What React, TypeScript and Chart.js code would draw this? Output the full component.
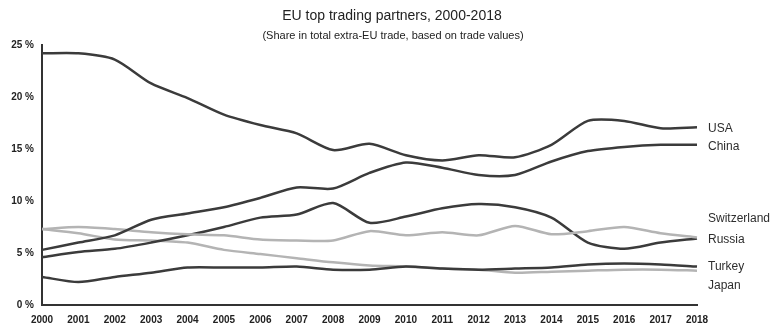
import React, { useEffect, useRef } from "react";
import { Chart, registerables } from "chart.js";

Chart.register(...registerables);

const TITLE = "EU top trading partners, 2000-2018";
const SUBTITLE = "(Share in total extra-EU trade, based on trade values)";

const years = ["2000","2001","2002","2003","2004","2005","2006","2007","2008","2009","2010","2011","2012","2013","2014","2015","2016","2017","2018"];

const usa = [24.2, 24.2, 23.6, 21.3, 19.9, 18.3, 17.3, 16.5, 14.9, 15.5, 14.4, 13.9, 14.4, 14.2, 15.4, 17.7, 17.7, 17.0, 17.1];
const china = [5.3, 6.0, 6.7, 8.2, 8.8, 9.4, 10.3, 11.3, 11.2, 12.7, 13.7, 13.2, 12.5, 12.5, 13.8, 14.8, 15.2, 15.4, 15.4];
const switzerland = [7.3, 7.5, 7.3, 7.0, 6.8, 6.7, 6.3, 6.2, 6.2, 7.1, 6.7, 7.0, 6.7, 7.6, 6.8, 7.1, 7.5, 6.9, 6.5];
const russia = [4.6, 5.1, 5.4, 6.0, 6.7, 7.5, 8.4, 8.7, 9.8, 7.9, 8.5, 9.3, 9.7, 9.4, 8.4, 6.0, 5.4, 6.0, 6.4];
const turkey = [2.7, 2.2, 2.7, 3.1, 3.6, 3.6, 3.6, 3.7, 3.4, 3.4, 3.7, 3.5, 3.4, 3.5, 3.6, 3.9, 4.0, 3.9, 3.7];
const japan = [7.3, 6.9, 6.3, 6.2, 6.0, 5.3, 4.9, 4.5, 4.1, 3.8, 3.7, 3.5, 3.4, 3.1, 3.2, 3.3, 3.4, 3.4, 3.3];

const seriesNames = ["USA", "China", "Switzerland", "Russia", "Turkey", "Japan"];
const seriesValues = [usa, china, switzerland, russia, turkey, japan];
// value (in %) at which each end label is placed
const endLabelValues = [17.0, 15.2, 8.3, 6.3, 3.7, 1.9];
const yTicks = [0, 5, 10, 15, 20, 25];

const DARK = "#3b3b3b";
const LIGHT = "#b4b4b4";
const seriesColors = [DARK, DARK, LIGHT, DARK, DARK, LIGHT];
const FONT = "'Liberation Sans', Arial, sans-serif";

const textPlugin = {
  id: "textPlugin",
  afterDraw(chart: any) {
    const { ctx, chartArea, scales } = chart;
    ctx.save();
    ctx.fillStyle = "#222";
    ctx.textAlign = "center";
    ctx.textBaseline = "middle";
    ctx.font = `14px ${FONT}`;
    ctx.fillText(TITLE, 392, 16);
    ctx.font = `11px ${FONT}`;
    ctx.fillText(SUBTITLE, 393, 36);
    ctx.textAlign = "left";
    ctx.font = `12px ${FONT}`;
    ctx.fillStyle = "#2e2e2e";
    seriesNames.forEach((name, i) => {
      const y = scales.y.getPixelForValue(endLabelValues[i]);
      ctx.fillText(name, chartArea.right + 11, y);
    });
    ctx.restore();
  },
};

export default function App() {
  const ref = useRef<HTMLCanvasElement>(null);
  useEffect(() => {
    document.body.style.margin = "0";
    const chart = new Chart(ref.current!, {
      type: "line",
      data: {
        labels: years,
        datasets: seriesNames.map((name, i) => ({
          label: name,
          data: seriesValues[i],
          borderColor: seriesColors[i],
          backgroundColor: seriesColors[i],
          borderWidth: 2.5,
          pointRadius: 0,
          tension: 0.25,
          fill: false,
        })),
      },
      options: {
        animation: false,
        responsive: false,
        layout: { padding: { top: 45, right: 83, left: 0, bottom: 0 } },
        plugins: { legend: { display: false }, title: { display: false }, tooltip: { enabled: false } },
        scales: {
          x: {
            type: "category",
            offset: false,
            grid: { display: false, drawTicks: false },
            border: { display: true, color: "#333", width: 2 },
            ticks: {
              color: "#222",
              font: { family: FONT, size: 10, weight: "bold" },
              maxRotation: 0,
              autoSkip: false,
              padding: 9,
            },
            afterFit(scale: any) { scale.height = 23; },
          },
          y: {
            min: 0,
            max: 25,
            afterBuildTicks(scale: any) { scale.ticks = yTicks.map((v) => ({ value: v })); },
            grid: { display: false, drawTicks: false },
            border: { display: true, color: "#333", width: 2 },
            ticks: {
              color: "#222",
              font: { family: FONT, size: 10, weight: "bold" },
              padding: 8,
              callback: (v: any) => `${v} %`,
            },
            afterFit(scale: any) { scale.width = 42; },
          },
        },
      },
      plugins: [textPlugin],
    });
    return () => chart.destroy();
  }, []);
  return (
    <div style={{ position: "absolute", left: 0, top: 0, width: 780, height: 328, background: "#fff" }}>
      <canvas ref={ref} width={780} height={328} />
    </div>
  );
}
